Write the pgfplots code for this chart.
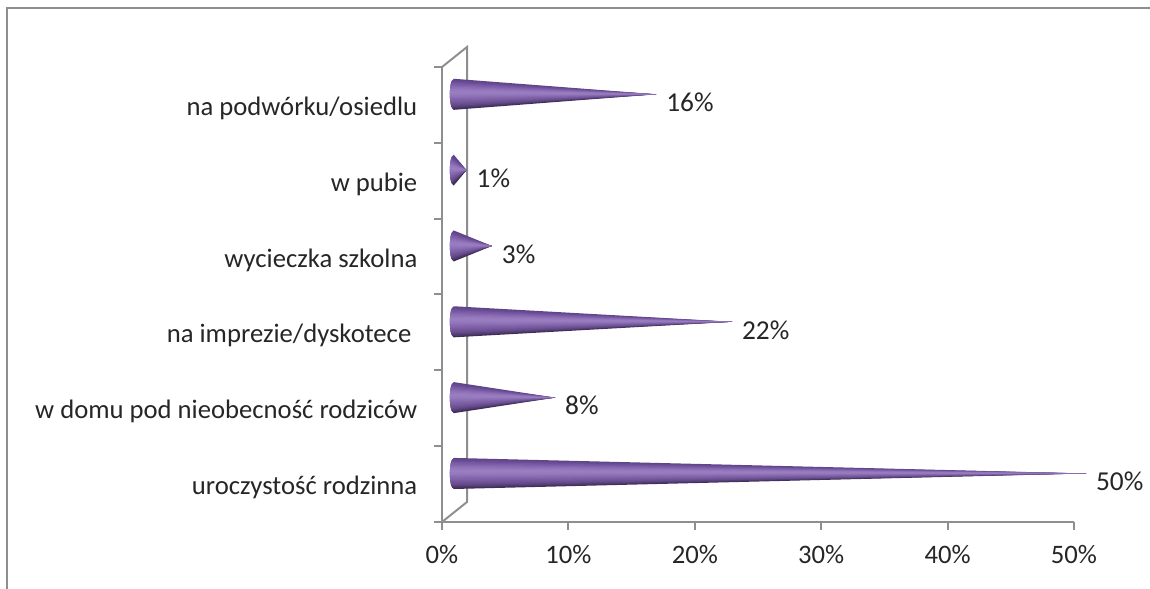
\documentclass[border=0pt]{standalone}
\usepackage{pgfplots}
\pgfplotsset{compat=1.18}
\usepackage{pgfplotstable}
\usepackage{fontspec}
\setmainfont{Carlito}
\definecolor{axgray}{HTML}{8E8E8E}
\definecolor{txt}{HTML}{262626}
\definecolor{c0}{HTML}{5E4487}
\definecolor{c1}{HTML}{6C4F98}
\definecolor{c2}{HTML}{7C5EA8}
\definecolor{c3}{HTML}{8B6CB5}
\definecolor{c4}{HTML}{9679BE}
\definecolor{c5}{HTML}{9A7EC1}
\definecolor{c6}{HTML}{9376BB}
\definecolor{c7}{HTML}{8A6CB2}
\definecolor{c8}{HTML}{7F61A8}
\definecolor{c9}{HTML}{73569B}
\definecolor{c10}{HTML}{664B8A}
\definecolor{c11}{HTML}{4E3A6E}
\pgfplotstableread{
val y
50 0.64
8  1.64
22 2.64
3  3.64
1  4.64
16 5.64
}\labeldata
% #3 = outer edge of the strip, #4 = inner edge (already overlapping the next strip)
\newcommand\strip[5]{%
  \pgfmathsetmacro\xa{0.62+0.3*(1-sqrt(1-(#3)*(#3)))}%
  \pgfmathsetmacro\xb{0.62+0.3*(1-sqrt(1-(#4)*(#4)))}%
  \pgfmathsetmacro\ya{#2+0.205*(#3)}%
  \pgfmathsetmacro\yb{#2+0.205*(#4)}%
  \pgfmathsetmacro\tip{#1+0.95}%
  \addplot[fill={#5},draw=none,forget plot] coordinates {(\xa,\ya) (\xb,\yb) (\tip,#2)} -- cycle;
}
\newcommand\cone[2]{%
  \strip{#1}{#2}{1}{0.77}{c0}
  \strip{#1}{#2}{0.92}{0.68}{c0!50!c1}
  \strip{#1}{#2}{0.83}{0.60}{c1}
  \strip{#1}{#2}{0.75}{0.52}{c1!50!c2}
  \strip{#1}{#2}{0.67}{0.43}{c2}
  \strip{#1}{#2}{0.58}{0.35}{c2!50!c3}
  \strip{#1}{#2}{0.5}{0.27}{c3}
  \strip{#1}{#2}{0.42}{0.18}{c3!50!c4}
  \strip{#1}{#2}{0.33}{0.1}{c4}
  \strip{#1}{#2}{0.25}{0.02}{c4!50!c5}
  \strip{#1}{#2}{-1}{-0.77}{c11!80!black}
  \strip{#1}{#2}{-0.92}{-0.68}{c11}
  \strip{#1}{#2}{-0.83}{-0.60}{c10!50!c11}
  \strip{#1}{#2}{-0.75}{-0.52}{c10}
  \strip{#1}{#2}{-0.67}{-0.43}{c9!50!c10}
  \strip{#1}{#2}{-0.58}{-0.35}{c9}
  \strip{#1}{#2}{-0.5}{-0.27}{c8!50!c9}
  \strip{#1}{#2}{-0.42}{-0.18}{c8}
  \strip{#1}{#2}{-0.33}{-0.1}{c7!50!c8}
  \strip{#1}{#2}{-0.25}{0}{c7}
  \strip{#1}{#2}{-0.17}{0.08}{c6!50!c7}
  \strip{#1}{#2}{-0.08}{0.1}{c6}
  \strip{#1}{#2}{0.17}{-0.02}{c5}
  \strip{#1}{#2}{0.08}{-0.02}{c5!50!c6}
}
\begin{document}
\begin{tikzpicture}[x=0.75pt,y=0.75pt,font=\fontsize{20}{23}\selectfont]
\useasboundingbox (0,0) rectangle (1150,589);
\draw[axgray,line width=1.5pt] (7,0) -- (7,581) -- (1150,581);
\begin{axis}[
  at={(331.5pt,50.25pt)},anchor=south west,
  scale only axis,width=474pt,height=341.25pt,
  xmin=0,xmax=50,ymin=0,ymax=6,
  clip=false,
  axis lines=left,
  axis line style={axgray,line width=1.5pt,-},
  tick style={axgray,line width=1.5pt},
  tick align=outside,
  major tick length=6pt,
  /pgf/number format/assume math mode=true,
  xtick={0,10,20,30,40,50},
  xticklabels={0\%,10\%,20\%,30\%,40\%,50\%},
  ytick={0,1,2,3,4,5,6},
  yticklabels={},
  extra y ticks={0.5,1.5,2.5,3.5,4.5,5.5},
  extra y tick labels={uroczystość rodzinna,w domu pod nieobecność rodziców,na imprezie/dyskotece\ \ ,wycieczka szkolna,w pubie\ ,na podwórku/osiedlu},
  extra y tick style={major tick length=0pt,yticklabel style={xshift=-15pt,yshift=-2.5pt}},
  xticklabel style={yshift=-8pt},
  ticklabel style={text=txt},
  every tick label/.append style={font=\fontsize{20}{23}\selectfont},
]
\addplot[axgray,line width=1.5pt,forget plot] coordinates {(0,0) (1.98,0.264) (1.98,6.264) (0,6)};
\cone{50}{0.64}
\cone{8}{1.64}
\cone{22}{2.64}
\cone{3}{3.64}
\cone{1}{4.64}
\cone{16}{5.64}
\addplot[draw=none,mark=none,forget plot,
  nodes near coords={\pgfmathprintnumber{\pgfplotspointmeta}\%},
  point meta=x,
  nodes near coords style={anchor=west,xshift=13pt,yshift=-6pt,text=txt,font=\fontsize{20.5}{23}\selectfont}
] table[x=val,y=y] {\labeldata};
\end{axis}
\end{tikzpicture}
\end{document}
